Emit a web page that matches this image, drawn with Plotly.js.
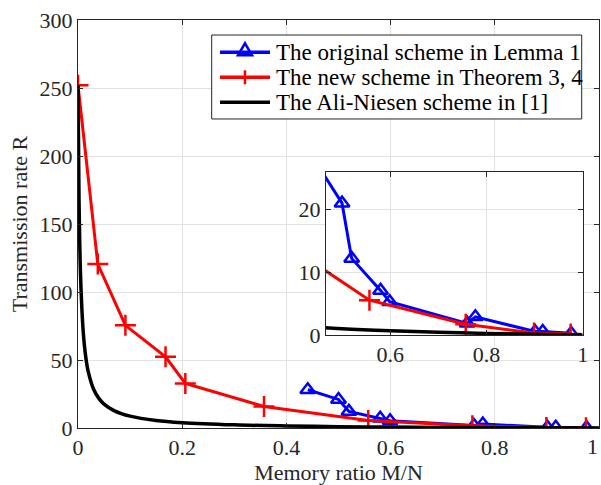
<!DOCTYPE html>
<html>
<head>
<meta charset="utf-8">
<script src="https://cdn.plot.ly/plotly-3.0.1.min.js"></script>
<style>html,body{margin:0;padding:0;background:#fff;}#chart{width:601px;height:485px;}</style>
</head>
<body>
<div id="chart"></div>
<script>
// Data
var legendNames = ['The original scheme in Lemma 1', 'The new scheme in Theorem 3, 4', 'The Ali-Niesen scheme in [1]'];

var origX = [0.441, 0.500, 0.520, 0.580, 0.599, 0.760, 0.777, 0.901, 0.917, 0.976];
var origY = [28.1, 21.0, 12.2, 7.1, 5.3, 1.85, 2.9, 0.55, 0.55, 0.27];

var newX = [0, 0.038, 0.091, 0.168, 0.206, 0.357, 0.557, 0.757, 0.899, 0.975];
var newY = [252, 120.5, 75.5, 52.3, 32.8, 15.8, 5.55, 1.7, 0.3, 0.15];

var aliX = [0, 0.002, 0.005, 0.01, 0.015, 0.02, 0.03, 0.04, 0.05, 0.07, 0.1, 0.15, 0.2, 0.3, 0.4, 0.5, 0.6, 0.7, 0.8, 0.9, 1.0];
var aliY = [252, 167, 111, 70.9, 51.9, 40.9, 28.5, 21.8, 17.6, 12.6, 8.7, 5.5, 3.9, 2.3, 1.49, 0.99, 0.66, 0.43, 0.25, 0.11, 0];

var mainXTicks = [0, 0.2, 0.4, 0.6, 0.8, 1];
var mainXTickText = ['0', '0.2', '0.4', '0.6', '0.8', ''];
var mainXLastLabel = '1';
var mainYTicks = [0, 50, 100, 150, 200, 250, 300];
var insetXTicks = [0.6, 0.8, 1];
var insetXTickText = ['0.6', '0.8', '1'];
var insetYTicks = [0, 10, 20];

var FONT = "'Liberation Serif', 'Times New Roman', Times, serif";
var TXT = '#262626';
var GRID = '#e3e3e3';
var BLUE = '#0000ff', RED = '#ff0000', BLACK = '#000000';

var blueLine = {color: BLUE, width: 3};
var redLine = {color: RED, width: 3};
var blackLine = {color: BLACK, width: 3.5, shape: 'spline'};
var blueMarker = {symbol: 'triangle-up-open', size: 13, color: BLUE, line: {color: BLUE, width: 2.5}};
var redMarker = {symbol: 'cross-thin-open', size: 15, color: RED, line: {color: RED, width: 2.5}};

var traces = [
  {x: origX, y: origY, name: legendNames[0], mode: 'lines+markers', line: blueLine, marker: blueMarker, xaxis: 'x', yaxis: 'y'},
  {x: newX, y: newY, name: legendNames[1], mode: 'lines+markers', line: redLine, marker: redMarker, xaxis: 'x', yaxis: 'y'},
  {x: aliX, y: aliY, name: legendNames[2], mode: 'lines', line: blackLine, xaxis: 'x', yaxis: 'y'},
  {x: origX, y: origY, mode: 'lines+markers', line: blueLine, marker: blueMarker, xaxis: 'x2', yaxis: 'y2'},
  {x: newX, y: newY, mode: 'lines+markers', line: redLine, marker: redMarker, xaxis: 'x2', yaxis: 'y2'},
  {x: aliX, y: aliY, mode: 'lines', line: blackLine, xaxis: 'x2', yaxis: 'y2'}
];

var axCommon = {
  showline: true, linecolor: TXT, linewidth: 1, mirror: 'ticks',
  ticks: 'inside', ticklen: 5, tickwidth: 1, tickcolor: TXT,
  showgrid: true, gridcolor: GRID, gridwidth: 1, zeroline: false,
  ticklabeloverflow: 'allow',
  tickfont: {family: FONT, size: 22, color: TXT}
};

// Legend (drawn by hand so its rows are as tight as in the reference)
var legBox = {x0: 0.2566, x1: 0.9668, y0: 0.7574, y1: 0.9632};
var legRowsY = [0.9208, 0.8596, 0.7983];
var legSw = {x0: 0.2726, x1: 0.3685, xm: 0.3205, xt: 0.3781};
var legColors = [BLUE, RED, BLACK];

var shapes = [{type: 'rect', xref: 'paper', yref: 'paper', x0: legBox.x0, x1: legBox.x1, y0: legBox.y0, y1: legBox.y1,
  fillcolor: '#ffffff', line: {color: TXT, width: 1}, layer: 'above'}];
var annotations = [];
legRowsY.forEach(function (yy, i) {
  shapes.push({type: 'line', xref: 'paper', yref: 'paper', x0: legSw.x0, x1: legSw.x1, y0: yy, y1: yy,
    line: {color: legColors[i], width: 3.5}, layer: 'above'});
  annotations.push({xref: 'paper', yref: 'paper', x: legSw.xt, y: yy, xanchor: 'left', yanchor: 'middle',
    text: legendNames[i], showarrow: false, font: {family: FONT, size: 23, color: '#000'}, borderpad: 0});
});
shapes.push({type: 'path', xref: 'paper', yref: 'paper', xsizemode: 'pixel', ysizemode: 'pixel',
  xanchor: legSw.xm, yanchor: legRowsY[0], path: 'M-7,-3L7,-3L0,9Z', fillcolor: 'rgba(0,0,0,0)',
  line: {color: BLUE, width: 2.5}, layer: 'above'});
shapes.push({type: 'path', xref: 'paper', yref: 'paper', xsizemode: 'pixel', ysizemode: 'pixel',
  xanchor: legSw.xm, yanchor: legRowsY[1], path: 'M-7,0H7M0,-7V7',
  line: {color: RED, width: 2.5}, layer: 'above'});

// last main x tick label, kept inside the picture as in the reference
annotations.push({xref: 'x', yref: 'paper', x: mainXTicks[mainXTicks.length - 1], y: -0.045, xanchor: 'right', yanchor: 'middle',
  text: mainXLastLabel, showarrow: false, font: {family: FONT, size: 22, color: TXT}, borderpad: 0});

var layout = {
  width: 601, height: 485,
  margin: {l: 78, r: 2, t: 20, b: 57, pad: 0},
  paper_bgcolor: 'white',
  plot_bgcolor: '#ffffff',
  showlegend: false,
  shapes: shapes,
  annotations: annotations,
  xaxis: Object.assign({}, axCommon, {
    range: [0, 1], tickmode: 'array', tickvals: mainXTicks, ticktext: mainXTickText,
    domain: [0, 1],
    title: {text: 'Memory ratio M/N', font: {family: FONT, size: 22, color: TXT}, standoff: 6}
  }),
  yaxis: Object.assign({}, axCommon, {
    range: [0, 300], tickmode: 'array', tickvals: mainYTicks,
    domain: [0, 1],
    title: {text: 'Transmission rate R', font: {family: FONT, size: 22, color: TXT}, standoff: 5}
  }),
  xaxis2: Object.assign({}, axCommon, {
    range: [0.4667, 1], tickmode: 'array', tickvals: insetXTicks, ticktext: insetXTickText,
    domain: [0.476, 0.9687], anchor: 'y2'
  }),
  yaxis2: Object.assign({}, axCommon, {
    range: [0, 26], tickmode: 'array', tickvals: insetYTicks,
    domain: [0.228, 0.628], anchor: 'x2'
  })
};

Plotly.newPlot('chart', traces, layout, {displayModeBar: false, staticPlot: true});
</script>
</body>
</html>
